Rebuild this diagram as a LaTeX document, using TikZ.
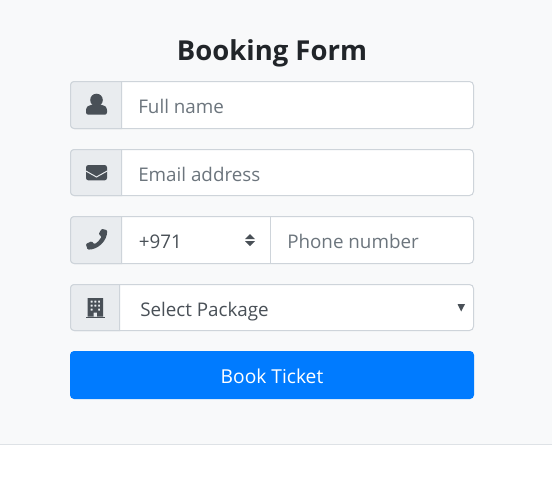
\documentclass[tikz,border=0pt]{standalone}
\usepackage{fontspec}
\setmainfont{Open Sans}
\definecolor{pagebg}{HTML}{F8F9FA}
\definecolor{edge}{HTML}{CED4DA}
\definecolor{addon}{HTML}{E9ECEF}
\definecolor{icon}{HTML}{495057}
\definecolor{hint}{HTML}{6C757D}
\definecolor{blue}{HTML}{007BFF}
\definecolor{rule}{HTML}{DEE2E6}
\definecolor{ink}{HTML}{212529}
\tikzset{
  x=0.75pt,y=-0.75pt,
  hinttext/.style={anchor=base west,inner sep=0pt,text=hint,font=\fontsize{14.1}{16}\selectfont},
  valtext/.style={anchor=base west,inner sep=0pt,text=icon,font=\fontsize{14.1}{16}\selectfont},
  field/.style={draw=edge,line width=0.75pt,fill=white,rounded corners=3pt},
  addonbox/.style={draw=edge,line width=0.75pt,fill=addon},
  iconfill/.style={fill=icon,draw=none},
}
\newcommand{\fieldrow}[3]{%
  \draw[field] (70.5,#1) rectangle (473.5,#2);
  \draw[addonbox,rounded corners=0pt] (#3,#1) -- (#3,#2) -- (74,#2)
     arc[start angle=90,end angle=180,radius=3.5] -- (70.5,#1+3.5)
     arc[start angle=180,end angle=270,radius=3.5] -- cycle;
}
\begin{document}
\begin{tikzpicture}
\useasboundingbox (0,0) rectangle (552,479);
\fill[pagebg] (0,0) rectangle (552,444);
\draw[rule,line width=0.75pt] (0,444.5) -- (552,444.5);
\node[anchor=base,inner sep=0pt,text=ink,font=\fontsize{20.6}{24}\selectfont\bfseries] (title) at (272,60) {Booking Form};

\fieldrow{81.5}{128.5}{121.5}
\fieldrow{149.5}{195.5}{121.5}
\fieldrow{216.5}{263.5}{121.5}
\fieldrow{284.5}{330.5}{119.5}
\draw[edge,line width=0.75pt] (270.5,216.5) -- (270.5,263.5);

\node[hinttext] (name) at (138,113) {Full name};
\node[hinttext] (email) at (138,181) {Email address};
\node[valtext] (code) at (138.5,248) {+971};
\node[hinttext] (phone) at (287,248) {Phone number};
\node[valtext] (package) at (140,316) {Select Package};

% person
\fill[iconfill] (96.5,100) circle[radius=6.3];
\fill[iconfill] (86,112.4) -- (86,110.5) .. controls (86,107) and (88.5,104.8) .. (91.5,104.8) -- (101.5,104.8) .. controls (104.5,104.8) and (107,107) .. (107,110.5) -- (107,112.4) .. controls (107,113.8) and (106,114.6) .. (105,114.6) -- (88,114.6) .. controls (87,114.6) and (86,113.8) .. (86,112.4) -- cycle;
% envelope
\fill[iconfill,rounded corners=1.8pt] (86,165) rectangle (107,180.4);
\draw[addon,line width=0.75pt] (85.5,170.8) -- (96.5,177) -- (107.5,170.8);
% phone
\fill[iconfill,rounded corners=0.8pt] (101.6,228.8) -- (107.2,230.2)
  .. controls (107.2,241) and (98,249.6) .. (87.6,249.6)
  -- (85.8,244) -- (91.8,241.2) -- (94.2,244.2)
  .. controls (97.2,242.6) and (100,239.8) .. (101.6,236.6)
  -- (98.6,234.2) -- cycle;
% spinner
\fill[iconfill] (250,234) -- (255,239) -- (245,239) -- cycle;
\fill[iconfill] (250,246) -- (255,241) -- (245,241) -- cycle;
% building
\fill[iconfill,even odd rule] (87.5,298) rectangle (103,316.5)
  (90.5,300.5) rectangle (92.5,302.5) (94.3,300.5) rectangle (96.3,302.5) (98.1,300.5) rectangle (100.1,302.5)
  (90.5,304.5) rectangle (92.5,306.5) (94.3,304.5) rectangle (96.3,306.5) (98.1,304.5) rectangle (100.1,306.5)
  (90.5,308.5) rectangle (92.5,310.5) (98.1,308.5) rectangle (100.1,310.5)
  (93.5,312.5) rectangle (97,316.5);
\fill[iconfill] (86,316.5) rectangle (104.5,318);
% caret
\fill[iconfill] (457.5,304) -- (465,304) -- (461.2,311.5) -- cycle;

% button
\fill[blue,rounded corners=3pt] (70,351) rectangle (474,399);
\node[anchor=base,inner sep=0pt,text=white,font=\fontsize{14.4}{16}\selectfont] (book) at (272,383) {Book Ticket};
\end{tikzpicture}
\end{document}
